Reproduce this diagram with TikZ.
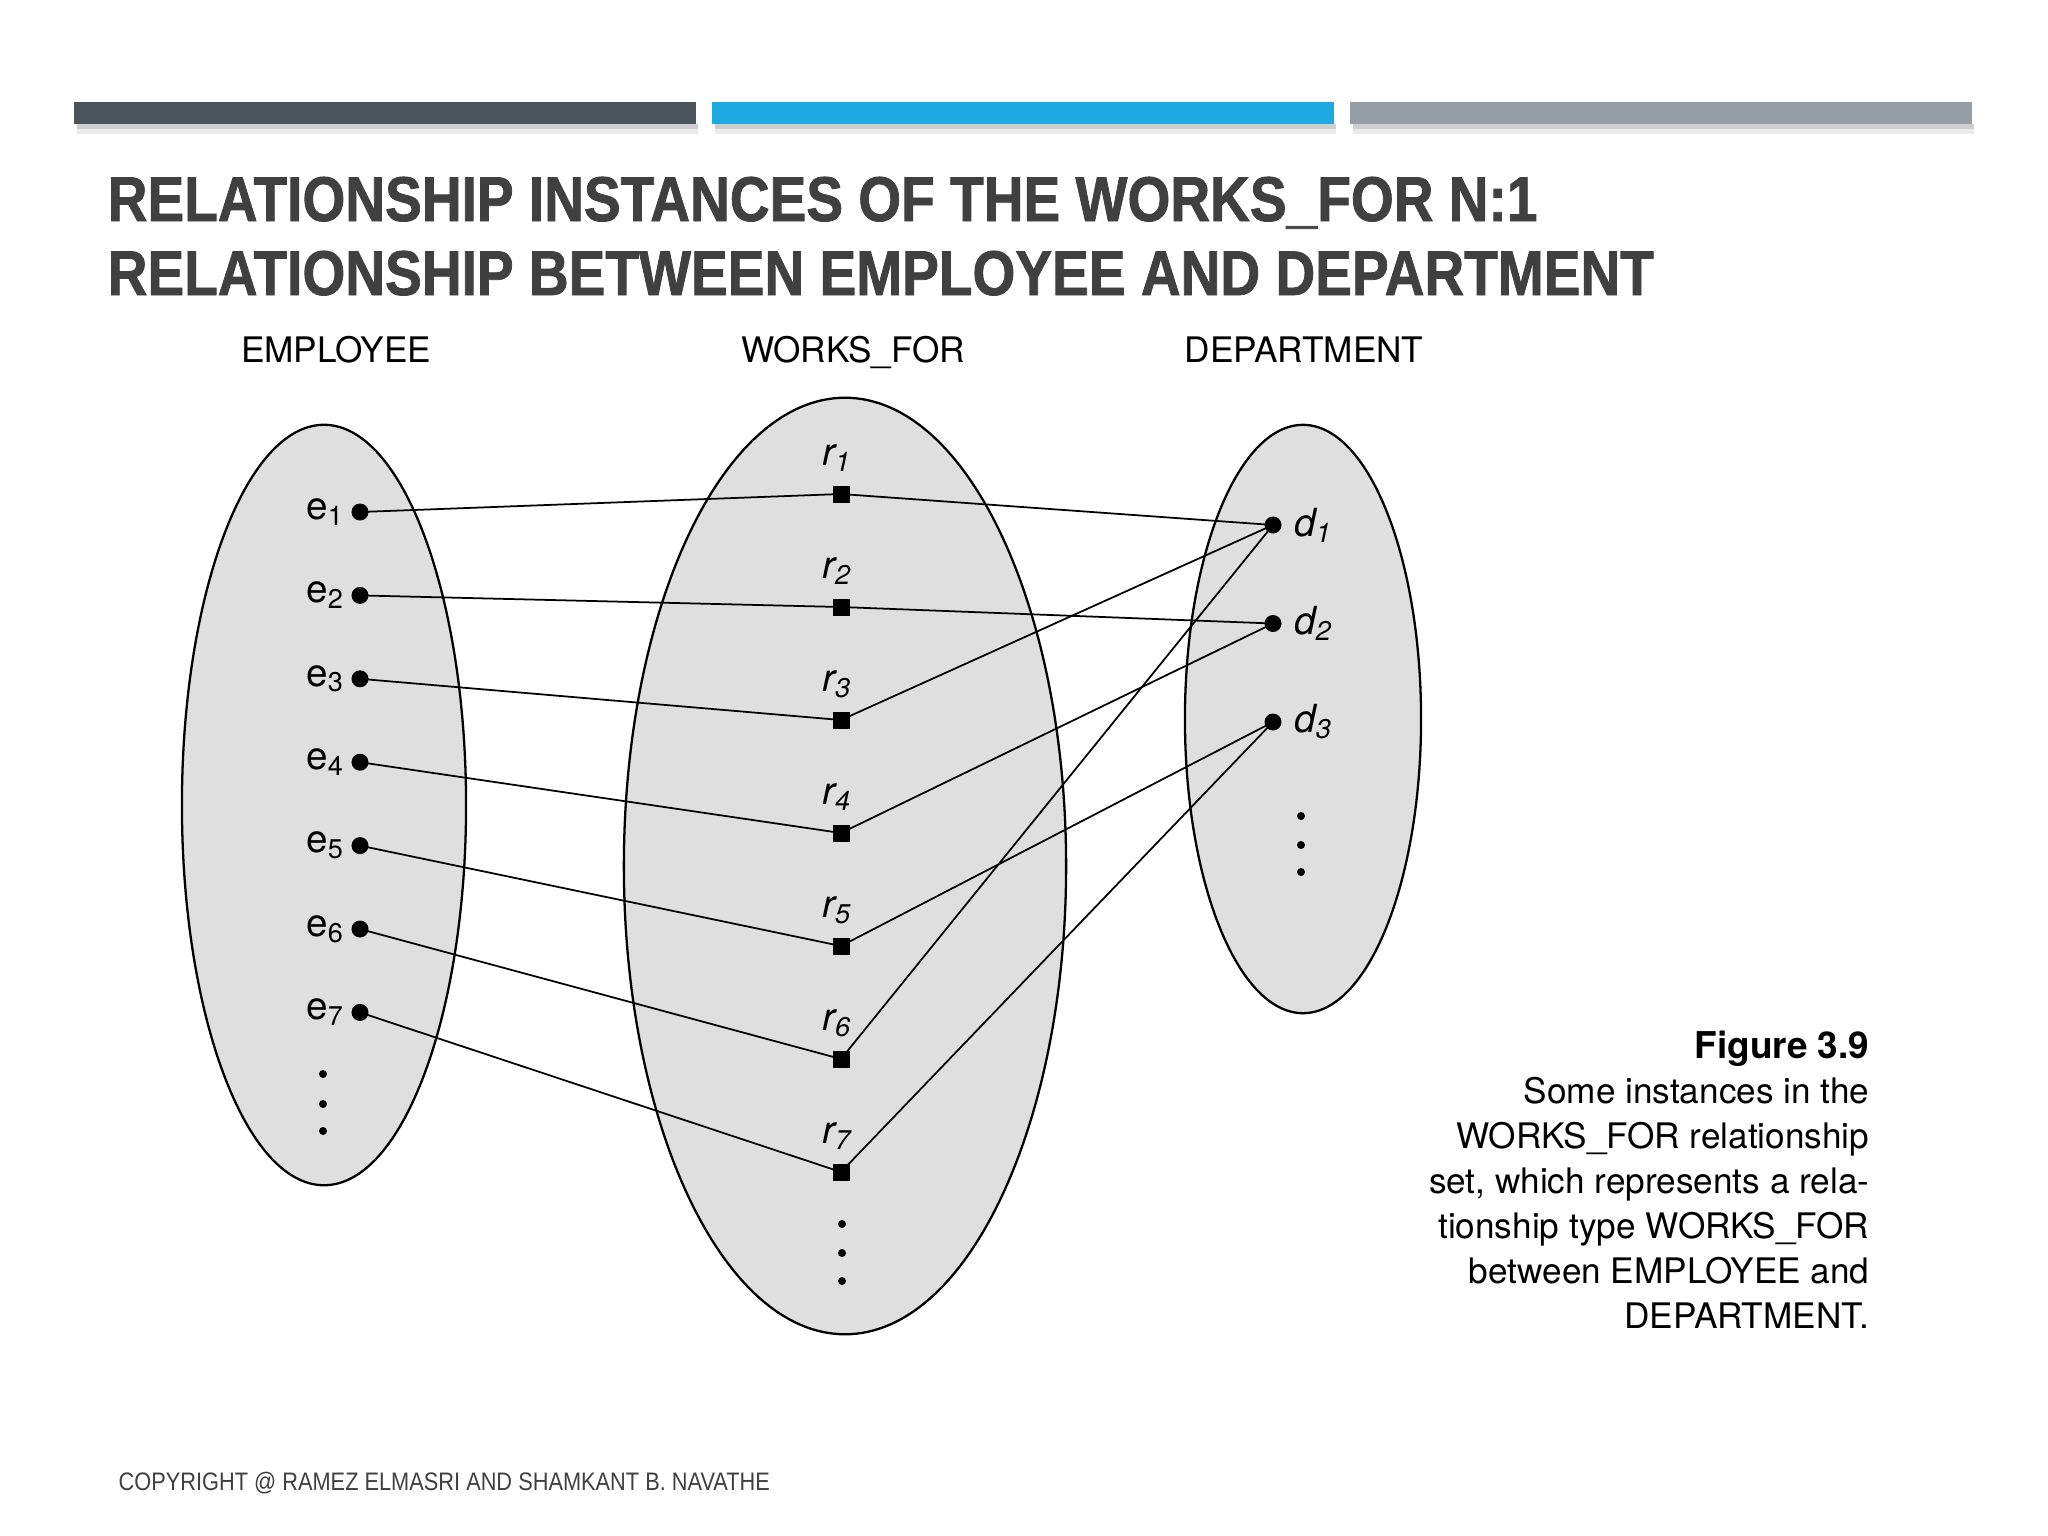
\documentclass[tikz,border=0pt]{standalone}
\usepackage{fontspec}
\setmainfont{TeX Gyre Heros}
\newfontfamily\headfont[FakeStretch=0.87, FakeBold=1.2]{Liberation Sans}
\newfontfamily\footfont[FakeStretch=0.86]{Liberation Sans}
\usepackage{tikz}
\usetikzlibrary{positioning, shapes.geometric}

\definecolor{barDark}{HTML}{4A545B}
\definecolor{barBlue}{HTML}{1EA9E1}
\definecolor{barGray}{HTML}{969EA6}
\definecolor{headGray}{HTML}{404040}
\definecolor{setFill}{HTML}{DFDFDF}

\begin{document}
\begin{tikzpicture} [x=0.01cm, y=-0.01cm,
	setshape/.style={ellipse, draw, line width=0.65pt, fill=setFill, inner sep=0pt},
	entdot/.style={circle, fill, inner sep=0pt, minimum size=0.17cm},
	reldot/.style={rectangle, fill, inner sep=0pt, minimum width=0.17cm, minimum height=0.17cm},
	smalldot/.style={circle, fill, inner sep=0pt, minimum size=0.08cm},
	link/.style={line width=0.5pt},
	setname/.style={font=\fontsize{10}{12}\selectfont, anchor=base},
	elabel/.style={font=\fontsize{11}{13}\selectfont, inner sep=1pt},
	vlabel/.style={font=\fontsize{11}{13}\selectfont\itshape, inner sep=1pt},
	capline/.style={font=\fontsize{10}{13}\selectfont, anchor=base east, inner sep=0pt}]
	%    slide frame
	\useasboundingbox (0,0) rectangle (2048,1536);
	\fill[white] (0,0) rectangle (2048,1536);
	
	\foreach \x/\c in {74/barDark, 712/barBlue, 1350/barGray} {
		\fill[black, opacity=0.08] (\x+3,124) rectangle (\x+624,134);
		\fill[black, opacity=0.12] (\x+3,124) rectangle (\x+624,129);
		\fill[\c] (\x,102) rectangle (\x+622,124);
	}
	
	\node[font=\headfont\bfseries\fontsize{18}{22}\selectfont, text=headGray, anchor=base west, inner sep=0pt] (title1) at (107,221) {RELATIONSHIP INSTANCES OF THE WORKS\_FOR N:1};
	\node[font=\headfont\bfseries\fontsize{18}{22}\selectfont, text=headGray, anchor=base west, inner sep=0pt] (title2) at (107,295) {RELATIONSHIP BETWEEN EMPLOYEE AND DEPARTMENT};
	
	% the three sets
	\node[setname] (empname) at (336,362) {EMPLOYEE};
	\node[setname] (relname) at (853,362) {WORKS\_FOR};
	\node[setname] (depname) at (1304,362) {DEPARTMENT};
	
	\node[setshape, minimum width=2.84cm, minimum height=7.6cm] (empset) at (324,805) {};
	\node[setshape, minimum width=4.42cm, minimum height=9.36cm] (relset) at (845,866) {};
	\node[setshape, minimum width=2.36cm, minimum height=5.88cm] (depset) at (1303,719) {};
	
	\foreach \i in {1,...,7} {
		\node[entdot] (e\i) at (360, {512+83.4*(\i-1)}) {};
		\node[elabel, left=0.02cm of e\i] (le\i) {e\textsubscript{\i}};
		\node[reldot] (r\i) at (841, {494+113*(\i-1)}) {};
		\node[vlabel, above=0.09cm of r\i, xshift=-0.04cm] (lr\i) {r\textsubscript{\i}};
	}
	\foreach \j in {1,2,3} {
		\node[entdot] (d\j) at (1273, {525+98.5*(\j-1)}) {};
		\node[vlabel, right=0.08cm of d\j] (ld\j) {d\textsubscript{\j}};
	}
	
	\foreach \k/\ey/\ry/\dy in {1/1074/1224/816, 2/1104/1253/845, 3/1131/1281/872} {
		\node[smalldot] (emore\k) at (323,\ey) {};
		\node[smalldot] (rmore\k) at (842,\ry) {};
		\node[smalldot] (dmore\k) at (1301,\dy) {};
	}
	
	\foreach \i/\j in {1/1, 2/2, 3/1, 4/2, 5/3, 6/1, 7/3} {
		\draw[link] (e\i.center) -- (r\i.center) -- (d\j.center);
	}
	
	% caption
	\node[capline, font=\fontsize{10.5}{13}\selectfont\bfseries] (capfig) at (1870,1058) {Figure 3.9};
	\foreach \t [count=\n] in {Some instances in the, WORKS\_FOR relationship, {set, which represents a rela-}, tionship type WORKS\_FOR, between EMPLOYEE and, DEPARTMENT.} {
		\node[capline] (cap\n) at (1870, {1058+45*\n}) {\t};
	}
	
	\node[font=\footfont\fontsize{7.2}{9}\selectfont, text=headGray, anchor=base west, inner sep=0pt] (copy) at (118,1490) {COPYRIGHT @ RAMEZ ELMASRI AND SHAMKANT B. NAVATHE};
	
\end{tikzpicture}
\end{document}
